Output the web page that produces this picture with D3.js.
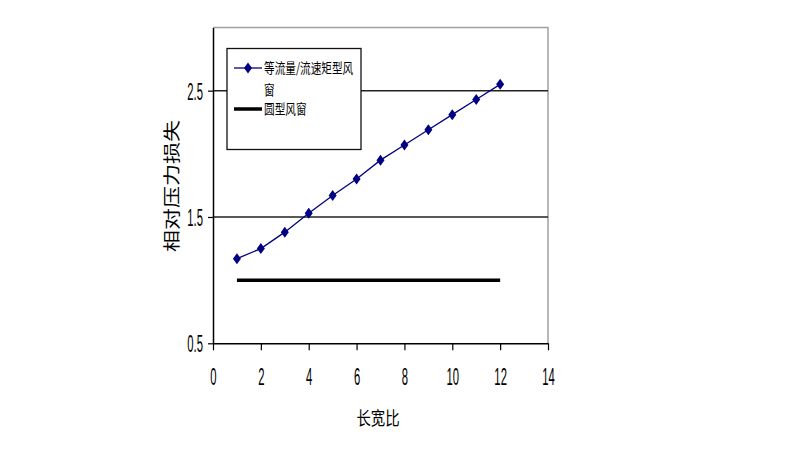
<!DOCTYPE html>
<html>
<head>
<meta charset="utf-8">
<title>相对压力损失</title>
<style>
  html, body { margin: 0; padding: 0; background: #fff; }
  svg { display: block; }
  .axis text { font-family: "Liberation Sans", Arial, sans-serif; font-size: 24px; fill: #000; }
  .cjk { font-family: "Noto Sans CJK SC", sans-serif; fill: #000; }
</style>
</head>
<body>
<svg id="chart" width="789" height="452"></svg>

<script src="https://d3js.org/d3.v7.min.js"></script>
<script>
// data
var ratios = [1, 2, 3, 4, 5, 6, 7, 8, 9, 10, 11, 12];
var rectLoss = [1.17, 1.25, 1.38, 1.53, 1.67, 1.80, 1.95, 2.07, 2.19, 2.31, 2.43, 2.55];
var roundLoss = [1.0, 1.0, 1.0, 1.0, 1.0, 1.0, 1.0, 1.0, 1.0, 1.0, 1.0, 1.0];
var xTicks = [0, 2, 4, 6, 8, 10, 12, 14];
var yTicks = [0.5, 1.5, 2.5];
var seriesNames = ["等流量/流速矩型风", "窗", "圆型风窗"];
var xTitle = "长宽比";
var yTitle = "相对压力损失";

var svg = d3.select("#chart"),
    plotL = 213, plotR = 548, plotT = 27.5, plotB = 343.3,
    navy = "#000080",
    narrow = 0.47;

var x = d3.scaleLinear().domain([0, 14]).range([plotL, plotR]),
    y = d3.scaleLinear().domain([0.5, 3.0]).range([plotB, plotT]);

// plot frame: grey top / right
svg.append("path")
    .attr("d", "M" + plotL + "," + plotT + "H" + plotR + "V" + plotB)
    .attr("fill", "none")
    .attr("stroke", "#a0a0a0")
    .attr("stroke-width", 1.5);

// gridlines
svg.selectAll(".grid")
  .data(yTicks.slice(1))
  .enter().append("line")
    .attr("class", "grid")
    .attr("x1", plotL).attr("x2", plotR)
    .attr("y1", function(d) { return y(d); })
    .attr("y2", function(d) { return y(d); })
    .attr("stroke", "#222")
    .attr("stroke-width", 1.5);

// axes
var xAxis = svg.append("g")
    .attr("class", "axis")
    .attr("transform", "translate(0," + plotB + ")")
    .call(d3.axisBottom(x).tickValues(xTicks).tickSize(7).tickSizeOuter(0));
xAxis.select(".domain").attr("stroke", "#000").attr("stroke-width", 1.5);
xAxis.selectAll(".tick line").attr("stroke", "#000").attr("stroke-width", 1.2);
xAxis.selectAll(".tick text")
    .attr("y", 42).attr("dy", 0)
    .attr("transform", "scale(" + narrow + ",1)");

var yAxis = svg.append("g")
    .attr("class", "axis")
    .attr("transform", "translate(" + plotL + ",0)")
    .call(d3.axisLeft(y).tickValues(yTicks).tickSize(5).tickSizeOuter(0).tickFormat(d3.format(".1f")));
yAxis.select(".domain").attr("stroke", "#000").attr("stroke-width", 1.5);
yAxis.selectAll(".tick line").attr("stroke", "#000").attr("stroke-width", 1.2);
yAxis.selectAll(".tick text")
    .attr("x", -10 / narrow).attr("dy", "0.36em")
    .attr("transform", "scale(" + narrow + ",1)");

// round duct: thick black line
svg.append("path")
    .datum(d3.zip(ratios, roundLoss))
    .attr("fill", "none")
    .attr("stroke", "#000")
    .attr("stroke-width", 3.5)
    .attr("d", d3.line().x(function(d) { return x(d[0]); }).y(function(d) { return y(d[1]); }));

// rectangular duct: navy line with diamonds
var rectData = d3.zip(ratios, rectLoss);
svg.append("path")
    .datum(rectData)
    .attr("fill", "none")
    .attr("stroke", navy)
    .attr("stroke-width", 1.3)
    .attr("d", d3.line().x(function(d) { return x(d[0]); }).y(function(d) { return y(d[1]); }));

var diamond = "M0,-5.5L4,0L0,5.5L-4,0Z";
svg.selectAll(".pt")
  .data(rectData)
  .enter().append("path")
    .attr("class", "pt")
    .attr("d", diamond)
    .attr("fill", navy)
    .attr("transform", function(d) { return "translate(" + x(d[0]) + "," + y(d[1]) + ")"; });

// legend
var lg = svg.append("g");
lg.append("rect")
    .attr("x", 227).attr("y", 48.5)
    .attr("width", 134).attr("height", 101)
    .attr("fill", "#fff")
    .attr("stroke", "#111")
    .attr("stroke-width", 1.3);
lg.append("line")
    .attr("x1", 234).attr("x2", 262).attr("y1", 68).attr("y2", 68)
    .attr("stroke", navy).attr("stroke-width", 1.3);
lg.append("path")
    .attr("d", diamond).attr("fill", navy)
    .attr("transform", "translate(248,68)");
lg.append("line")
    .attr("x1", 234).attr("x2", 262).attr("y1", 109).attr("y2", 109)
    .attr("stroke", "#000").attr("stroke-width", 3.5);

var legendRows = [[seriesNames[0], 68], [seriesNames[1], 90], [seriesNames[2], 109]];
lg.selectAll(".lt")
  .data(legendRows)
  .enter().append("text")
    .attr("class", "lt cjk")
    .attr("font-size", 14)
    .attr("dy", "0.36em")
    .attr("transform", function(d) { return "translate(264," + d[1] + ") scale(0.76,1)"; })
    .text(function(d) { return d[0]; });

// axis titles
svg.append("text")
    .attr("class", "cjk")
    .attr("font-size", 18)
    .attr("text-anchor", "middle")
    .attr("transform", "translate(378,425) scale(0.8,1)")
    .text(xTitle);

svg.append("text")
    .attr("class", "cjk")
    .attr("font-size", 22)
    .attr("text-anchor", "middle")
    .attr("dy", "0.36em")
    .attr("transform", "translate(172,186) scale(0.78,1) rotate(-90)")
    .text(yTitle);
</script>
</body>
</html>
